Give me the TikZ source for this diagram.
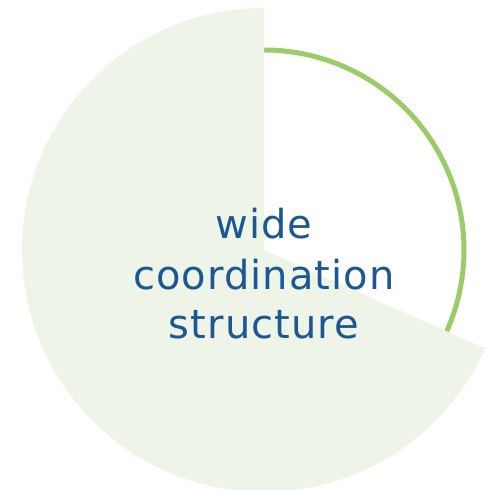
\documentclass[tikz,border=0pt]{standalone}
\usepackage{fontspec}
\setmainfont{DejaVu Sans}[LetterSpace=2.7]
\definecolor{piefill}{HTML}{EEF4E7}
\definecolor{arcgreen}{HTML}{9CCB6A}
\definecolor{textblue}{HTML}{1C5795}
\tikzset{
  lbl/.style={anchor=base, text=textblue, inner sep=0pt, font=\fontsize{40}{50}\selectfont},
}
\begin{document}
\begin{tikzpicture}[x=1pt,y=1pt]
\useasboundingbox (0,0) rectangle (486,490);
\coordinate (c) at (264,240);
\draw[arcgreen, line width=5pt] ([shift={(90:200)}]c) arc[start angle=90, end angle=-24, radius=200];
\fill[piefill] (c) -- ([shift={(90:242)}]c) arc[start angle=90, end angle=336, radius=242] -- cycle;
\node[lbl] (l1) at (264,251) {wide};
\node[lbl] (l2) at (264,200.5) {coordination};
\node[lbl] (l3) at (264,151) {structure};
\end{tikzpicture}
\end{document}
